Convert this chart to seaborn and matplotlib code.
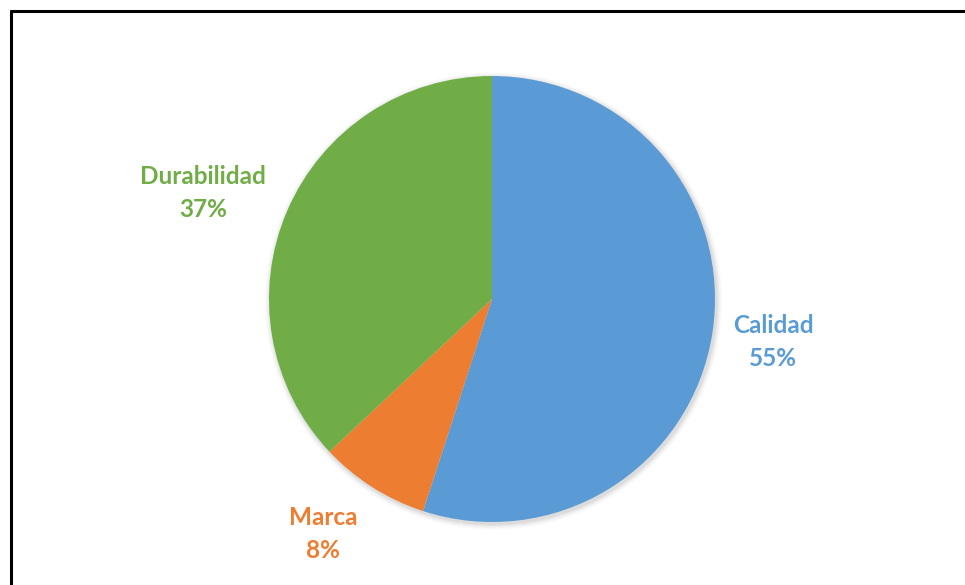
import matplotlib
matplotlib.use("Agg")
import matplotlib.pyplot as plt
from matplotlib.lines import Line2D
from matplotlib.patches import Circle
import seaborn as sns

# Survey shares by purchase criterion
categories = ["Calidad", "Marca", "Durabilidad"]
shares = [55, 8, 37]
colors = ["#5B9BD5", "#ED7D31", "#70AD47"]

sns.set_theme(style="white")
plt.rcParams["font.family"] = ["Lato", "DejaVu Sans"]

W, H = 965, 585
fig = plt.figure(figsize=(W / 100, H / 100), dpi=100)
fig.patch.set_facecolor("white")
ax = fig.add_axes([0, 0, 1, 1])
ax.set_xlim(0, W)
ax.set_ylim(0, H)
ax.axis("off")

cx, cy, r = 492, H - 299, 223

# soft drop shadow under the pie
for i, a in enumerate([0.035, 0.03, 0.025, 0.02, 0.015, 0.01]):
    ax.add_patch(Circle((cx + 1.5, cy - 2), r + 1 + i, color="black", alpha=a, lw=0, zorder=1))

wedges, _ = ax.pie(shares, colors=colors, startangle=90, counterclock=False,
                   center=(cx, cy), radius=r, frame=True,
                   wedgeprops=dict(linewidth=0, zorder=2))
ax.set_xlim(0, W)
ax.set_ylim(0, H)
ax.set_aspect("auto")
ax.axis("off")

# label anchors (pixel layout, y measured from the top)
label_pos = [(773, 342), (323, 534), (203, 193)]
for cat, val, col, (lx, ly) in zip(categories, shares, colors, label_pos):
    ax.text(lx, H - ly, f"{cat}\n{val}%", ha="center", va="center",
            color=col, fontsize=17.5, fontweight="bold", linespacing=1.5, zorder=3)

# chart frame (left and top edges)
fig.add_artist(Line2D([10.5 / W, 10.5 / W], [0, 1 - 10.5 / H], color="black", lw=2.2,
                      transform=fig.transFigure))
fig.add_artist(Line2D([10.5 / W, 1], [1 - 10.5 / H, 1 - 10.5 / H], color="black", lw=2.2,
                      transform=fig.transFigure))

fig.savefig("out.png", dpi=100, facecolor="white")
